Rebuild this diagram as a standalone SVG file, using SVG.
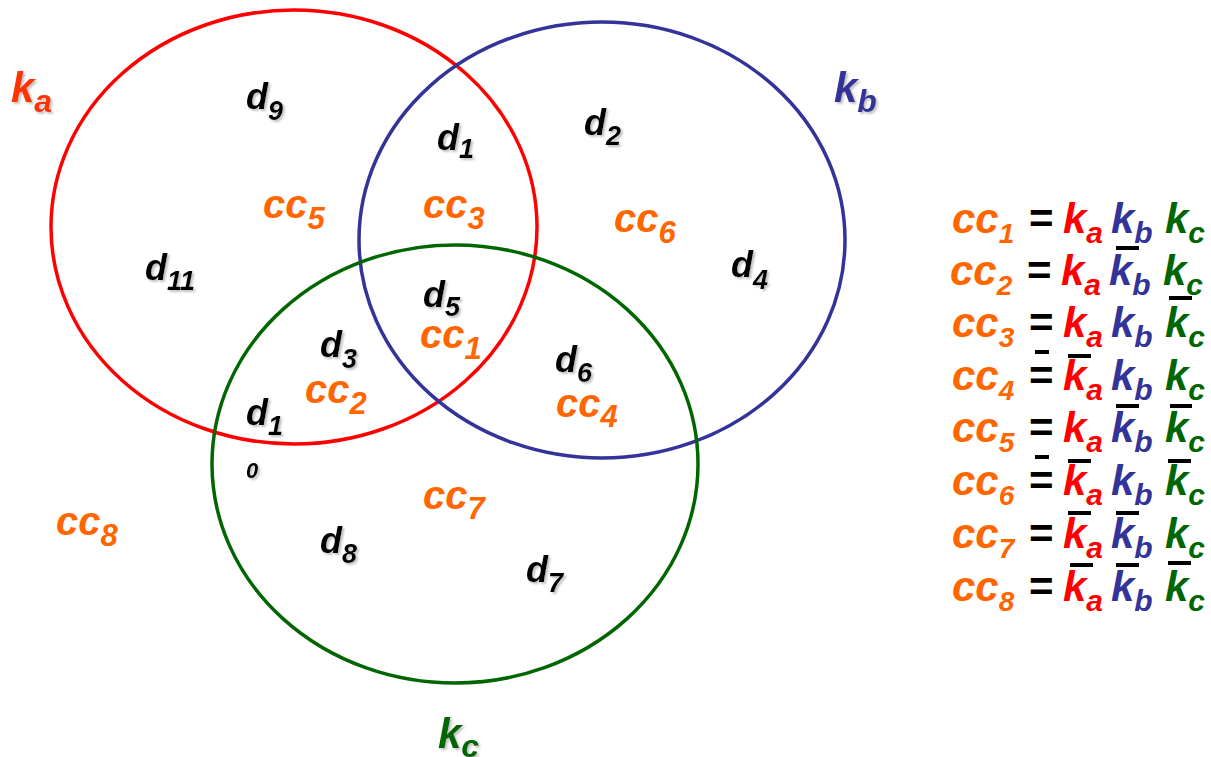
<svg xmlns="http://www.w3.org/2000/svg" width="1211" height="757" viewBox="0 0 1211 757">
<defs>
<filter id="sh" x="-20%" y="-20%" width="150%" height="150%">
<feDropShadow dx="2" dy="2" stdDeviation="1" flood-color="#999999" flood-opacity="0.6"/>
</filter>
</defs>
<style>
text{font-family:"Liberation Sans",Arial,Helvetica,sans-serif;font-weight:bold;font-style:italic}
.d{font-size:36px;fill:#000000;filter:url(#sh)}
.cc{font-size:40px;fill:#FF6600}
.ds{font-size:27px}
.ccs{font-size:31px}
.lab{font-size:42px;filter:url(#sh)}
.labs{font-size:32px}
.lg{font-size:42px}
.lgs{font-size:30px}
.lgd{font-size:28px}
.eq{fill:#000000;font-style:normal}
.ra{fill:#FF0000}
.bb{fill:#333399}
.gc{fill:#006600}
.bar{stroke:#000000;stroke-width:4}
.set{fill:none;stroke-width:3.5}
</style>
<rect width="1211" height="757" fill="#FFFFFF"/>
<g id="connectors">
<ellipse id="set-ka" class="set" cx="294" cy="227" rx="243" ry="217" stroke="#FF0000"/>
<ellipse id="set-kb" class="set" cx="602" cy="240" rx="243" ry="218" stroke="#333399"/>
<ellipse id="set-kc" class="set" cx="455" cy="464" rx="243" ry="219" stroke="#006600"/>
</g>
<g id="set-labels">
<text class="lab" x="11" y="102" fill="#FF3300">k<tspan class="labs" dy="10">a</tspan></text>
<text class="lab" x="834" y="102" fill="#333399">k<tspan class="labs" dy="10">b</tspan></text>
<text class="lab" x="438" y="748" fill="#006600">k<tspan class="labs" dy="9">c</tspan></text>
</g>
<g id="docs">
<text class="d" x="246" y="109">d<tspan class="ds" dy="11">9</tspan></text>
<text class="d" x="437" y="150">d<tspan class="ds" dy="8">1</tspan></text>
<text class="d" x="584" y="135">d<tspan class="ds" dy="10">2</tspan></text>
<text class="d" x="145" y="280">d<tspan class="ds" dy="10">11</tspan></text>
<text class="d" x="731" y="277">d<tspan class="ds" dy="12">4</tspan></text>
<text class="d" x="423" y="307">d<tspan class="ds" dy="9">5</tspan></text>
<text class="d" x="320" y="357">d<tspan class="ds" dy="11">3</tspan></text>
<text class="d" x="555" y="372">d<tspan class="ds" dy="10">6</tspan></text>
<text class="d" x="246" y="425">d<tspan class="ds" dy="10">1</tspan></text>
<text class="d ds" x="246" y="478" style="font-size:22px">0</text>
<text class="d" x="320" y="553">d<tspan class="ds" dy="10">8</tspan></text>
<text class="d" x="526" y="582">d<tspan class="ds" dy="10">7</tspan></text>
</g>
<g id="classes">
<text class="cc" x="263" y="218">cc<tspan class="ccs" dy="11">5</tspan></text>
<text class="cc" x="423" y="218">cc<tspan class="ccs" dy="11">3</tspan></text>
<text class="cc" x="614" y="232">cc<tspan class="ccs" dy="11">6</tspan></text>
<text class="cc" x="420" y="348">cc<tspan class="ccs" dy="11">1</tspan></text>
<text class="cc" x="305" y="403">cc<tspan class="ccs" dy="11">2</tspan></text>
<text class="cc" x="556" y="417">cc<tspan class="ccs" dy="10">4</tspan></text>
<text class="cc" x="423" y="509">cc<tspan class="ccs" dy="10">7</tspan></text>
<text class="cc" x="56" y="535">cc<tspan class="ccs" dy="11">8</tspan></text>
</g>
<g id="legend">
<g id="row1">
<text class="lg cc" x="952" y="233">cc<tspan class="lgd" dy="10">1</tspan></text>
<text class="lg eq" x="1029" y="233">=</text>
<text class="lg ra" x="1063" y="233">k<tspan class="lgs" dy="10">a</tspan></text>
<text class="lg bb" x="1111" y="233">k<tspan class="lgs" dy="10">b</tspan></text>
<text class="lg gc" x="1165" y="233">k<tspan class="lgs" dy="10">c</tspan></text>
</g>
<g id="row2">
<text class="lg cc" x="950" y="285">cc<tspan class="lgd" dy="10">2</tspan></text>
<text class="lg eq" x="1027" y="285">=</text>
<text class="lg ra" x="1061" y="285">k<tspan class="lgs" dy="10">a</tspan></text>
<text class="lg bb" x="1109" y="285">k<tspan class="lgs" dy="10">b</tspan></text>
<text class="lg gc" x="1163" y="285">k<tspan class="lgs" dy="10">c</tspan></text>
</g>
<g id="row3">
<text class="lg cc" x="952" y="337">cc<tspan class="lgd" dy="10">3</tspan></text>
<text class="lg eq" x="1029" y="337">=</text>
<text class="lg ra" x="1063" y="337">k<tspan class="lgs" dy="10">a</tspan></text>
<text class="lg bb" x="1111" y="337">k<tspan class="lgs" dy="10">b</tspan></text>
<text class="lg gc" x="1165" y="337">k<tspan class="lgs" dy="10">c</tspan></text>
</g>
<g id="row4">
<text class="lg cc" x="952" y="390">cc<tspan class="lgd" dy="10">4</tspan></text>
<text class="lg eq" x="1029" y="390">=</text>
<text class="lg ra" x="1063" y="390">k<tspan class="lgs" dy="10">a</tspan></text>
<text class="lg bb" x="1111" y="390">k<tspan class="lgs" dy="10">b</tspan></text>
<text class="lg gc" x="1165" y="390">k<tspan class="lgs" dy="10">c</tspan></text>
</g>
<g id="row5">
<text class="lg cc" x="952" y="442">cc<tspan class="lgd" dy="10">5</tspan></text>
<text class="lg eq" x="1029" y="442">=</text>
<text class="lg ra" x="1063" y="442">k<tspan class="lgs" dy="10">a</tspan></text>
<text class="lg bb" x="1111" y="442">k<tspan class="lgs" dy="10">b</tspan></text>
<text class="lg gc" x="1165" y="442">k<tspan class="lgs" dy="10">c</tspan></text>
</g>
<g id="row6">
<text class="lg cc" x="952" y="495">cc<tspan class="lgd" dy="10">6</tspan></text>
<text class="lg eq" x="1029" y="495">=</text>
<text class="lg ra" x="1063" y="495">k<tspan class="lgs" dy="10">a</tspan></text>
<text class="lg bb" x="1111" y="495">k<tspan class="lgs" dy="10">b</tspan></text>
<text class="lg gc" x="1165" y="495">k<tspan class="lgs" dy="10">c</tspan></text>
</g>
<g id="row7">
<text class="lg cc" x="952" y="548">cc<tspan class="lgd" dy="10">7</tspan></text>
<text class="lg eq" x="1029" y="548">=</text>
<text class="lg ra" x="1063" y="548">k<tspan class="lgs" dy="10">a</tspan></text>
<text class="lg bb" x="1111" y="548">k<tspan class="lgs" dy="10">b</tspan></text>
<text class="lg gc" x="1165" y="548">k<tspan class="lgs" dy="10">c</tspan></text>
</g>
<g id="row8">
<text class="lg cc" x="952" y="601">cc<tspan class="lgd" dy="10">8</tspan></text>
<text class="lg eq" x="1029" y="601">=</text>
<text class="lg ra" x="1063" y="601">k<tspan class="lgs" dy="10">a</tspan></text>
<text class="lg bb" x="1111" y="601">k<tspan class="lgs" dy="10">b</tspan></text>
<text class="lg gc" x="1165" y="601">k<tspan class="lgs" dy="10">c</tspan></text>
</g>
<g id="overbars">
<line class="bar" x1="1116" y1="248" x2="1139" y2="248"/>
<line class="bar" x1="1169" y1="298" x2="1192" y2="298"/>
<line class="bar" x1="1035" y1="352" x2="1049" y2="352"/>
<line class="bar" x1="1068" y1="356" x2="1091" y2="356"/>
<line class="bar" x1="1116" y1="406" x2="1139" y2="406"/>
<line class="bar" x1="1170" y1="406" x2="1192" y2="406"/>
<line class="bar" x1="1035" y1="457" x2="1049" y2="457"/>
<line class="bar" x1="1068" y1="461" x2="1091" y2="461"/>
<line class="bar" x1="1168" y1="461" x2="1191" y2="461"/>
<line class="bar" x1="1068" y1="513" x2="1091" y2="513"/>
<line class="bar" x1="1116" y1="513" x2="1139" y2="513"/>
<line class="bar" x1="1070" y1="565" x2="1093" y2="565"/>
<line class="bar" x1="1116" y1="565" x2="1139" y2="565"/>
<line class="bar" x1="1168" y1="563" x2="1191" y2="563"/>
</g>
</g>
</svg>
